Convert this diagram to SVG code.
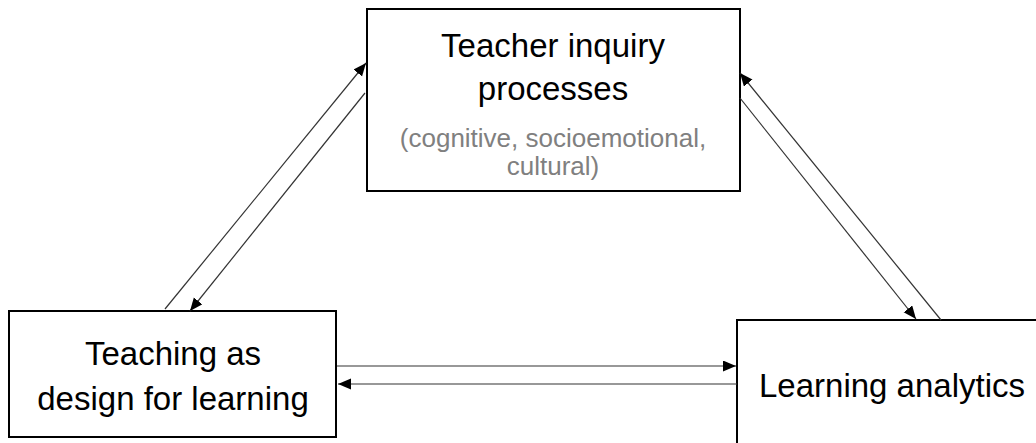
<svg xmlns="http://www.w3.org/2000/svg" width="1036" height="443" viewBox="0 0 1036 443">
<style>
.box{fill:#fff;stroke:#000;stroke-width:2}
.big{font-family:"Liberation Sans",Arial,sans-serif;font-size:33px;fill:#000;text-anchor:middle}
.small{font-family:"Liberation Sans",Arial,sans-serif;font-size:26px;fill:#808080;text-anchor:middle}
.conn{stroke:#333;stroke-width:1.2;fill:none;marker-end:url(#ah)}
</style>
<defs>
<marker id="ah" markerUnits="userSpaceOnUse" markerWidth="14" markerHeight="12" refX="13" refY="5.5" orient="auto">
<path d="M0,0 L13,5.5 L0,11 z" fill="#000"/>
</marker>
</defs>
<rect width="1036" height="443" fill="#fff"/>
<g id="node-inquiry">
<rect class="box" x="367" y="9" width="373" height="182"/>
<text class="big" x="553" y="57">Teacher inquiry</text>
<text class="big" x="553" y="100">processes</text>
<text class="small" x="553" y="147">(cognitive, socioemotional,</text>
<text class="small" x="553" y="175">cultural)</text>
</g>
<g id="node-design">
<rect class="box" x="9" y="311" width="327" height="126"/>
<text class="big" x="173" y="365">Teaching as</text>
<text class="big" x="173" y="410">design for learning</text>
</g>
<g id="node-analytics">
<rect class="box" x="737" y="320" width="310" height="140"/>
<text class="big" x="892" y="397">Learning analytics</text>
</g>
<g id="connectors">
<line class="conn" x1="165" y1="309" x2="366" y2="63"/>
<line class="conn" x1="365" y1="93" x2="190" y2="311"/>
<line class="conn" x1="941" y1="320" x2="740" y2="73"/>
<line class="conn" x1="740" y1="98" x2="916" y2="319"/>
<line class="conn" x1="337" y1="366" x2="736" y2="366"/>
<line class="conn" x1="737" y1="384" x2="338" y2="384"/>
</g>
</svg>
